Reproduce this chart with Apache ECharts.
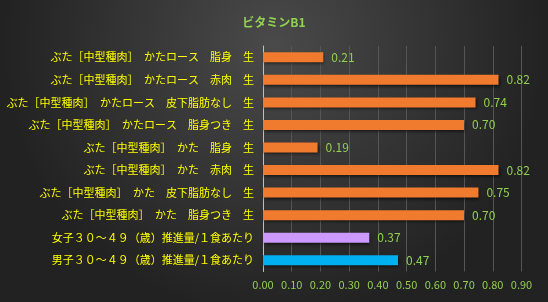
<!DOCTYPE html>
<html><head><meta charset="utf-8">
<script src="https://cdn.jsdelivr.net/npm/echarts@6/dist/echarts.min.js"></script>
<style>html,body{margin:0;padding:0;background:#2a2a2a}#c{width:548px;height:302px}</style>
</head><body><div id="c"></div>
<script>
const title = 'ビタミンB1';
const categories = [
  'ぶた［中型種肉］　かたロース　脂身　生',
  'ぶた［中型種肉］　かたロース　赤肉　生',
  'ぶた［中型種肉］　かたロース　皮下脂肪なし　生',
  'ぶた［中型種肉］　かたロース　脂身つき　生',
  'ぶた［中型種肉］　かた　脂身　生',
  'ぶた［中型種肉］　かた　赤肉　生',
  'ぶた［中型種肉］　かた　皮下脂肪なし　生',
  'ぶた［中型種肉］　かた　脂身つき　生',
  '女子３０～４９（歳）推進量/１食あたり',
  '男子３０～４９（歳）推進量/１食あたり'
];
const values = [0.21, 0.82, 0.74, 0.70, 0.19, 0.82, 0.75, 0.70, 0.37, 0.47];
const barColors = ['#f07b2e','#f07b2e','#f07b2e','#f07b2e','#f07b2e','#f07b2e','#f07b2e','#f07b2e','#cc99ff','#00b0f0'];
const xTicks = [0, 0.1, 0.2, 0.3, 0.4, 0.5, 0.6, 0.7, 0.8, 0.9];

const chart = echarts.init(document.getElementById('c'));
chart.setOption({
  backgroundColor: {type:'radial', x:0.5, y:0.15, r:0.9, colorStops:[{offset:0,color:'#4a4a4a'},{offset:1,color:'#222222'}]},
  animation: false,
  title: {text: title, left: 'center', top: 11, textStyle: {color:'#92d050', fontSize: 12, fontWeight: 'bold', fontFamily: 'Noto Sans CJK JP'}},
  grid: {left: 263, right: 548-521.5, top: 46, bottom: 302-271.5, containLabel: false},
  xAxis: {type:'value', min: xTicks[0], max: xTicks[xTicks.length-1], interval: 0.1,
    axisLine:{show:false}, axisTick:{show:false},
    splitLine:{lineStyle:{color:'#555555', width:1}},
    axisLabel:{color:'#92d050', fontSize:11, fontFamily:'Noto Sans CJK JP', margin: 8,
      formatter: v => v.toFixed(2)}},
  yAxis: {type:'category', data: categories, inverse: true,
    axisLine:{show:true, lineStyle:{color:'#bfbfbf', width:1}}, axisTick:{show:false},
    axisLabel:{color:'#ffff00', fontSize:11, fontFamily:'Noto Sans CJK JP', margin: 9}},
  series: [{type:'bar', barWidth: 10,
    data: values.map((v,i)=>({value:v, itemStyle:{color: barColors[i]}})),
    itemStyle:{shadowColor:'rgba(0,0,0,0.6)', shadowBlur:3, shadowOffsetX:1, shadowOffsetY:2},
    label:{show:true, position:'right', distance:8, color:'#92d050', fontSize:12, fontFamily:'Noto Sans CJK JP',
      formatter: p => p.value.toFixed(2)}
  }]
});
</script></body></html>
